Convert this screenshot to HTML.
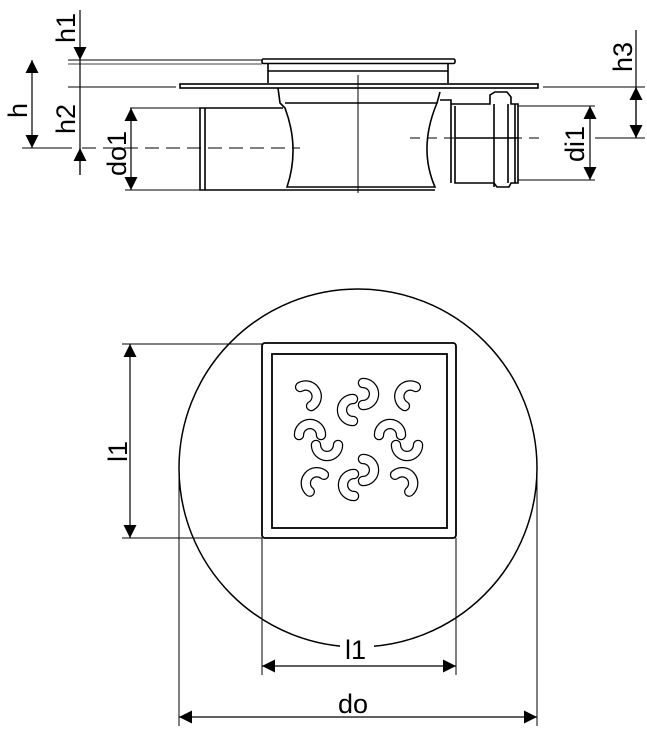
<!DOCTYPE html>
<html><head><style>html,body{margin:0;padding:0;background:#fff}svg{display:block}</style></head>
<body>
<svg width="647" height="729" viewBox="0 0 647 729" xmlns="http://www.w3.org/2000/svg" font-family="Liberation Sans, sans-serif">
<defs>
<marker id="a" viewBox="0 0 10 10" refX="10" refY="5" markerWidth="13" markerHeight="13" markerUnits="userSpaceOnUse" orient="auto-start-reverse"><path d="M0,0L10,5L0,10Z" fill="#000"/></marker>
<g id="cr"><path d="M-11,5 A11,11 0 0 1 11,5" fill="none" stroke="#000" stroke-width="10.5" stroke-linecap="round"/><path d="M-11,5 A11,11 0 0 1 11,5" fill="none" stroke="#fff" stroke-width="8" stroke-linecap="round"/></g>
</defs>
<g stroke="#000" fill="none">
<line x1="68" y1="60" x2="262" y2="60" stroke-width="1"/>
<line x1="68" y1="64" x2="262" y2="64" stroke-width="0.8"/>
<line x1="68" y1="87" x2="176" y2="87" stroke-width="1"/>
<line x1="22" y1="148" x2="72" y2="148" stroke-width="1"/>
<line x1="130" y1="108" x2="200" y2="108" stroke-width="1"/>
<line x1="125" y1="190" x2="200" y2="190" stroke-width="1"/>
<line x1="543" y1="87" x2="645" y2="87" stroke-width="1"/>
<line x1="595" y1="138" x2="645" y2="138" stroke-width="1"/>
<line x1="518" y1="106" x2="595" y2="106" stroke-width="1"/>
<line x1="518" y1="180" x2="595" y2="180" stroke-width="1"/>
<line x1="82" y1="148" x2="300" y2="148" stroke-width="1" stroke-dasharray="14,7"/>
<line x1="410" y1="138" x2="545" y2="138" stroke-width="1" stroke-dasharray="10,7"/>
<line x1="358" y1="75" x2="358" y2="193" stroke-width="1"/>
<line x1="80" y1="10" x2="80" y2="60" stroke-width="1.2" marker-end="url(#a)"/>
<line x1="80" y1="60" x2="80" y2="175" stroke-width="1.2"/>
<line x1="80" y1="175" x2="80" y2="148" stroke-width="1.2" marker-end="url(#a)"/>
<line x1="32" y1="60" x2="32" y2="148" stroke-width="1.2" marker-start="url(#a)" marker-end="url(#a)"/>
<line x1="131" y1="108" x2="131" y2="190" stroke-width="1.2" marker-start="url(#a)" marker-end="url(#a)"/>
<line x1="590" y1="106" x2="590" y2="180" stroke-width="1.2" marker-start="url(#a)" marker-end="url(#a)"/>
<line x1="636" y1="30" x2="636" y2="138" stroke-width="1.2"/>
<line x1="636" y1="87" x2="636" y2="138" stroke-width="1.2" marker-start="url(#a)" marker-end="url(#a)"/>
<g stroke-width="1.6">
<rect x="262" y="59" width="193" height="4.5" rx="1.5"/>
<path d="M268,64 L268,83 M448,64 L448,83 M268,71 L448,71"/>
<rect x="180" y="84" width="358" height="4" />
<path d="M278,88 L280,103 L285,108 Q300,148 287,187 L435,187 Q418,148 437,103 L440,92"/>
<line x1="285" y1="103" x2="437" y2="103"/>
<path d="M283,108 L200,108 L200,190 L287,190"/>
<line x1="205" y1="108" x2="205" y2="190"/>
<line x1="287" y1="190" x2="435" y2="190"/>
<path d="M440,100 L451,100 L451,183"/>
<path d="M451,104 L490,104 L490,95 L495,92 L507,92 L511,97 L511,104 L518,104 L518,183 L511,183 L509,187 L497,187 L494,183 L455,183 L455,106"/>
<path d="M455,138 L518,138 M494,104 L494,187 M508,104 L508,183 M515,104 L515,183"/>
</g>
<circle cx="358" cy="468" r="179" stroke-width="1.5"/>
<rect x="262" y="343" width="194" height="195" rx="3" stroke-width="1.8"/>
<rect x="272" y="354" width="175" height="174" stroke-width="1.8"/>
<line x1="122" y1="344" x2="262" y2="344" stroke-width="1"/>
<line x1="122" y1="538" x2="262" y2="538" stroke-width="1"/>
<line x1="262" y1="538" x2="262" y2="675" stroke-width="1"/>
<line x1="456" y1="538" x2="456" y2="675" stroke-width="1"/>
<line x1="179" y1="468" x2="179" y2="726" stroke-width="1"/>
<line x1="537" y1="468" x2="537" y2="726" stroke-width="1"/>
<line x1="130" y1="344" x2="130" y2="538" stroke-width="1.2" marker-start="url(#a)" marker-end="url(#a)"/>
<line x1="262" y1="666" x2="456" y2="666" stroke-width="1.2" marker-start="url(#a)" marker-end="url(#a)"/>
<line x1="179" y1="717" x2="537" y2="717" stroke-width="1.2" marker-start="url(#a)" marker-end="url(#a)"/>
</g>
<g>
<use href="#cr" transform="translate(310,394) rotate(60)"/>
<use href="#cr" transform="translate(348,410) rotate(-90)"/>
<use href="#cr" transform="translate(368,394) rotate(90)"/>
<use href="#cr" transform="translate(406,394) rotate(-60)"/>
<use href="#cr" transform="translate(310,430)"/>
<use href="#cr" transform="translate(390,430)"/>
<use href="#cr" transform="translate(327,450) rotate(180)"/>
<use href="#cr" transform="translate(407,450) rotate(180)"/>
<use href="#cr" transform="translate(313,480) rotate(-50)"/>
<use href="#cr" transform="translate(349,485) rotate(-90)"/>
<use href="#cr" transform="translate(368,470) rotate(90)"/>
<use href="#cr" transform="translate(406,480) rotate(50)"/>
</g>
<rect x="340" y="638" width="34" height="25" fill="#fff"/>
<g font-size="27" fill="#000">
<text transform="translate(75,43) rotate(-90)">h1</text>
<text transform="translate(27,118) rotate(-90)">h</text>
<text transform="translate(75,134) rotate(-90)">h2</text>
<text transform="translate(126,176) rotate(-90)">do1</text>
<text transform="translate(584,162) rotate(-90)">di1</text>
<text transform="translate(632,72) rotate(-90)">h3</text>
<text transform="translate(127,462) rotate(-90)">l1</text>
<text x="345" y="659">l1</text>
<text x="338" y="713">do</text>
</g>
</svg>
</body></html>
